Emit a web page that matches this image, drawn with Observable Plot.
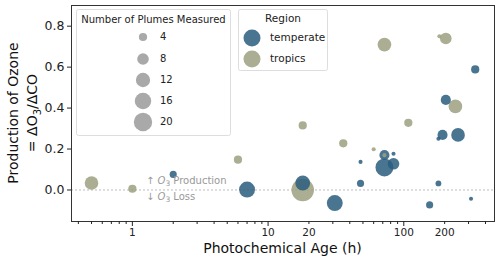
<!DOCTYPE html>
<html>
<head>
<meta charset="utf-8">
<script src="https://cdn.jsdelivr.net/npm/d3@7"></script>
<script src="https://cdn.jsdelivr.net/npm/@observablehq/plot@0.6"></script>
<style>
  html, body { margin: 0; padding: 0; background: #fff; }
  svg { display: block; }
</style>
</head>
<body>
<div id="chart"></div>
<script>
// ---- data ----
const tempAge   = [2.0, 7.0, 18, 31, 48, 48, 72, 72, 84, 84, 155, 180, 180, 193, 204, 251, 336, 313];
const tempRatio = [0.076, 0.002, 0.034, -0.064, 0.032, 0.137, 0.11, 0.171, 0.128, 0.177, -0.073, 0.032, 0.25, 0.269, 0.44, 0.269, 0.589, -0.043];
const tempCount = [3, 15, 13, 15, 3, 1, 19, 6, 8, 1, 3, 2, 1, 6, 6, 11, 4, 1];

const tropAge   = [0.5, 1.0, 6.0, 18, 18, 35.8, 60, 72, 72, 108, 183, 204, 240];
const tropRatio = [0.034, 0.006, 0.148, 0.0, 0.315, 0.228, 0.199, 0.17, 0.71, 0.328, 0.751, 0.74, 0.408];
const tropCount = [11, 4, 4, 30, 4, 4, 1, 1, 11, 4, 1, 8, 11];

const regions = ["temperate", "tropics"];
const regionColors = ["#2a5d7d", "#9ca07f"];
const sizeLegendValues = [4, 8, 12, 16, 20];

const xMajorTicks = [1, 10, 100];
const xLabelledMinorTicks = [20, 50, 200];
const xMinorTicks = [0.4, 0.5, 0.6, 0.7, 0.8, 0.9, 2, 3, 4, 5, 6, 7, 8, 9, 30, 40, 60, 70, 80, 90, 300, 400];
const yTicks = [0, 0.2, 0.4, 0.6, 0.8];

// build table
const rows = [];
tempAge.forEach((a, i) => rows.push({age: a, ratio: tempRatio[i], n: tempCount[i], region: regions[0]}));
tropAge.forEach((a, i) => rows.push({age: a, ratio: tropRatio[i], n: tropCount[i], region: regions[1]}));

const FONT = "DejaVu Sans, Liberation Sans, sans-serif";

const chart = Plot.plot({
  width: 500,
  height: 265,
  marginLeft: 71,
  marginRight: 6,
  marginTop: 5,
  marginBottom: 44,
  style: {fontFamily: FONT, fontSize: "11px", color: "#222", background: "#fff"},
  x: {type: "log", domain: [0.356, 466]},
  y: {domain: [-0.154, 0.901]},
  r: {type: "sqrt", domain: [0, 20], range: [0, 9.2]},
  color: {domain: regions, range: regionColors},
  marks: [
    Plot.ruleY([0], {stroke: "#bbb", strokeWidth: 1, strokeDasharray: "2,2"}),
    Plot.dot(rows, {x: "age", y: "ratio", r: "n", fill: "region", fillOpacity: 0.85, stroke: "none"}),
    Plot.frame({stroke: "#333", strokeWidth: 1}),
    Plot.axisX({ticks: xMajorTicks, tickSize: 5, tickPadding: 2, tickFormat: d => String(d), label: null, fontSize: 10.5, stroke: "#222"}),
    Plot.axisX({ticks: xLabelledMinorTicks, tickSize: 3, tickPadding: 4, tickFormat: d => String(d), label: null, fontSize: 10.5, stroke: "#222"}),
    Plot.axisX({ticks: xMinorTicks, tickSize: 3, tickFormat: () => "", label: null, stroke: "#222"}),
    Plot.axisY({ticks: yTicks, tickSize: 4, tickPadding: 3, tickFormat: d => d.toFixed(1), label: null, fontSize: 12.5, stroke: "#222"})
  ]
});

document.getElementById("chart").appendChild(chart);

const svg = d3.select(chart);
const xs = chart.scale("x");
const ys = chart.scale("y");
const rs = chart.scale("r");

// axis labels
svg.append("text")
  .attr("x", (71 + 494) / 2).attr("y", 253)
  .attr("text-anchor", "middle")
  .style("font-family", FONT).style("font-size", "14px").attr("fill", "#111")
  .text("Photochemical Age (h)");

const yl = svg.append("g").attr("transform", "translate(0,113) rotate(-90)");
yl.append("text").attr("x", 0).attr("y", 18).attr("text-anchor", "middle")
  .style("font-family", FONT).style("font-size", "14px").attr("fill", "#111")
  .text("Production of Ozone");
const l2 = yl.append("text").attr("x", 0).attr("y", 37).attr("text-anchor", "middle")
  .style("font-family", FONT).style("font-size", "14px").attr("fill", "#111");
l2.append("tspan").text("= ΔO");
l2.append("tspan").attr("dy", 4).style("font-size", "10px").text("3");
l2.append("tspan").attr("dy", -4).text("/ΔCO");

// annotation near zero line
function annot(txt, arrow, yVal) {
  const t = svg.append("text")
    .attr("x", xs.apply(1.27)).attr("y", ys.apply(yVal))
    .attr("text-anchor", "start")
    .attr("dominant-baseline", "middle")
    .style("font-family", FONT).style("font-size", "10px").attr("fill", "#999");
  t.append("tspan").text(arrow + " ");
  t.append("tspan").style("font-style", "italic").text("O");
  t.append("tspan").attr("dy", 3).style("font-size", "7.5px").text("3");
  t.append("tspan").attr("dy", -3).text(" " + txt);
}
annot("Production", "↑", 0.042);
annot("Loss", "↓", -0.035);

// size legend
const g1 = svg.append("g");
g1.append("rect").attr("x", 76.5).attr("y", 9.5).attr("width", 154).attr("height", 126)
  .attr("rx", 2).attr("fill", "#fff").attr("fill-opacity", 0.8).attr("stroke", "#ddd");
g1.append("text").attr("x", 153.5).attr("y", 23).attr("text-anchor", "middle")
  .style("font-family", FONT).style("font-size", "10px").attr("fill", "#222")
  .text("Number of Plumes Measured");
const rowY = [37, 59, 80, 101, 122];
sizeLegendValues.forEach((v, i) => {
  g1.append("circle").attr("cx", 143).attr("cy", rowY[i]).attr("r", rs.apply(v)).attr("fill", "#a9a9a9");
  g1.append("text").attr("x", 160).attr("y", rowY[i]).attr("text-anchor", "start").attr("dominant-baseline", "middle")
    .style("font-family", FONT).style("font-size", "10px").attr("fill", "#222").text(String(v));
});

// region legend
const g2 = svg.append("g");
g2.append("rect").attr("x", 238.5).attr("y", 9.5).attr("width", 89).attr("height", 61)
  .attr("rx", 2).attr("fill", "#fff").attr("fill-opacity", 0.8).attr("stroke", "#ddd");
g2.append("text").attr("x", 283).attr("y", 22).attr("text-anchor", "middle")
  .style("font-family", FONT).style("font-size", "10.5px").attr("fill", "#222").text("Region");
const regY = [38, 59];
regions.forEach((reg, i) => {
  g2.append("circle").attr("cx", 252).attr("cy", regY[i]).attr("r", 8.5)
    .attr("fill", regionColors[i]).attr("fill-opacity", 0.85);
  g2.append("text").attr("x", 270).attr("y", regY[i]).attr("text-anchor", "start").attr("dominant-baseline", "middle")
    .style("font-family", FONT).style("font-size", "10.5px").attr("fill", "#222").text(reg);
});
</script>
</body>
</html>
